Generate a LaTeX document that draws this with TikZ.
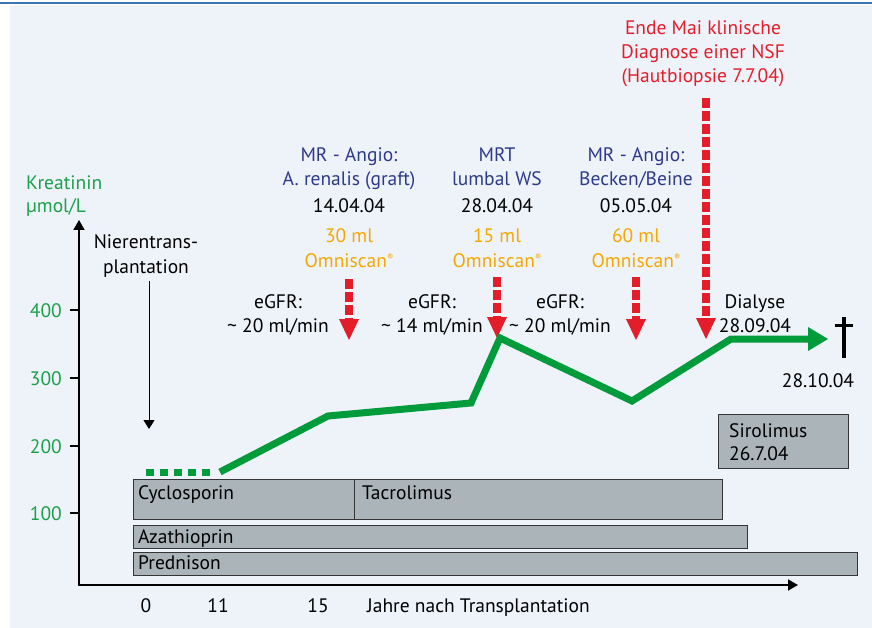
\documentclass[tikz,border=0pt]{standalone}
\usepackage{fontspec}
\setmainfont{PT Sans}
\usetikzlibrary{arrows.meta,positioning}

\definecolor{bgblue}{HTML}{EEF2F9}
\definecolor{rulebl}{HTML}{3A76B6}
\definecolor{kgreen}{HTML}{1BA04B}
\definecolor{curvegreen}{HTML}{009B3A}
\definecolor{examblue}{HTML}{2E3A8C}
\definecolor{doseorange}{HTML}{F4A800}
\definecolor{nsfred}{HTML}{E31E2A}
\definecolor{bargray}{HTML}{AAB4B9}
\definecolor{barline}{HTML}{353535}

\newcommand{\omniscan}{Omniscan\raisebox{6pt}{\fontsize{9}{9}\selectfont ®}}

\begin{document}
\begin{tikzpicture}[x=1pt,y=-1pt,node distance=24pt,on grid,
    every node/.style={inner sep=0pt,text height=14pt,text depth=4pt,font=\fontsize{19.5}{24}\selectfont},
    lbl/.style={anchor=base},
    exam/.style={lbl,text=examblue},
    dose/.style={lbl,text=doseorange},
    nsf/.style={lbl,text=nsfred},
    barlab/.style={anchor=base west},
    ylab/.style={anchor=base east,text=kgreen},
    bar/.style={draw=barline,fill=bargray,line width=1.3pt,anchor=north west,text height=0pt,text depth=0pt},
    axis/.style={line width=1.5pt,{Triangle[length=10pt,width=11pt]}-{Triangle[length=10pt,width=11pt]}},
    thinarrow/.style={line width=1pt,-{Triangle[length=9pt,width=11pt]}},
    cmarrow/.style={draw=nsfred,line width=8pt,dash pattern=on 10pt off 3pt,-{Triangle[length=21pt,width=20pt,line width=0pt]}},
    curve/.style={draw=curvegreen,line width=7pt,-{Triangle[length=20pt,width=24pt,line width=0pt]}},
    curvedot/.style={draw=curvegreen,line width=7pt,dash pattern=on 8pt off 6pt}]
   \useasboundingbox (0,0) rectangle (872,628);
   \fill[bgblue] (10,5) rectangle (872,628);
   \draw[rulebl,line width=2pt] (0,3) -- (872,3);

   \node[lbl,anchor=base west,text=kgreen] (kre) at (26,190) {Kreatinin};
   \node[lbl,anchor=base west,text=kgreen] (kreu) at (26,213) {µmol/L};

   \coordinate (ytip) at (79,220);
   \coordinate (orig) at (79,585);
   \coordinate (xtip) at (798,585);
   \draw[axis] (ytip) -- (orig) -- (xtip);
   \foreach \v/\y in {400/310,300/378,200/446,100/513} {
      \draw[line width=1.5pt] (70,\y) -- (79,\y);
      \node[ylab] (y\v) at (62,\y+7) {\v};
   }
   \node[lbl] (x0) at (146,612) {0};
   \node[lbl] (x11) at (218,612) {11};
   \node[lbl] (x15) at (318,612) {15};
   \node[barlab] (xlab) at (367,612) {Jahre nach Transplantation};

   \node[lbl] (ntx) at (146,249) {Nierentrans-};
   \node[below=of ntx] (ntx2) {plantation};
   \coordinate (nt0) at (149,281);
   \coordinate (nt1) at (149,429);
   \draw[thinarrow] (nt0) -- (nt1);

   \node[exam] (ex1) at (349,162) {MR - Angio:};
   \node[exam,below=of ex1] (ex1b) {A. renalis (graft)};
   \node[lbl,below=27pt of ex1b] (dt1) {14.04.04};
   \node[dose,below=30pt of dt1] (ml1) {30 ml};
   \node[dose,below=of ml1] (om1) {\omniscan};

   \node[exam] (ex2) at (497,162) {MRT};
   \node[exam,below=of ex2] (ex2b) {lumbal WS};
   \node[lbl,below=27pt of ex2b] (dt2) {28.04.04};
   \node[dose,below=30pt of dt2] (ml2) {15 ml};
   \node[dose,below=of ml2] (om2) {\omniscan};

   \node[exam] (ex3) at (636,162) {MR - Angio:};
   \node[exam,below=of ex3] (ex3b) {Becken/Beine};
   \node[lbl,below=27pt of ex3b] (dt3) {05.05.04};
   \node[dose,below=30pt of dt3] (ml3) {60 ml};
   \node[dose,below=of ml3] (om3) {\omniscan};

   \node[nsf] (nsf1) at (703,35) {Ende Mai klinische};
   \node[nsf,below=of nsf1] (nsf2) {Diagnose einer NSF};
   \node[nsf,below=of nsf2] (nsf3) {(Hautbiopsie 7.7.04)};

   \coordinate (a1) at (349,279);
   \coordinate (a1t) at (349,340);
   \coordinate (a2) at (497,277);
   \coordinate (a2t) at (497,338);
   \coordinate (a3) at (636,277);
   \coordinate (a3t) at (636,340);
   \coordinate (a4) at (706,98);
   \coordinate (a4t) at (706,339);
   \draw[cmarrow] (a1) -- (a1t);
   \draw[cmarrow] (a2) -- (a2t);
   \draw[cmarrow] (a3) -- (a3t);
   \draw[cmarrow] (a4) -- (a4t);

   \node[lbl] (gfr1) at (278,308) {eGFR:};
   \node[below=of gfr1] (gfr1b) {\textasciitilde{} 20 ml/min};
   \node[lbl] (gfr2) at (432,308) {eGFR:};
   \node[below=of gfr2] (gfr2b) {\textasciitilde{} 14 ml/min};
   \node[lbl] (gfr3) at (560,308) {eGFR:};
   \node[below=of gfr3] (gfr3b) {\textasciitilde{} 20 ml/min};

   \node[lbl] (dia) at (755,308) {Dialyse};
   \node[below=of dia] (diadt) {28.09.04};
   \node[lbl] (tod) at (818,387) {28.10.04};
   \coordinate (crs) at (844,317);
   \draw[line width=4pt] (crs) -- ++(0,41);
   \draw[line width=3pt] (crs) ++(-9,8) -- ++(18,0);

   \node[bar,minimum width=221pt,minimum height=40pt] (cyc) at (133,479) {};
   \node[bar,minimum width=368pt,minimum height=40pt] (tac) at (354,479) {};
   \node[bar,minimum width=614pt,minimum height=23pt] (aza) at (133,525) {};
   \node[bar,minimum width=724pt,minimum height=23pt] (pred) at (133,552) {};
   \node[bar,minimum width=130pt,minimum height=54pt] (siro) at (718,414) {};
   \node[barlab] (cyctx) at (138,499) {Cyclosporin};
   \node[barlab] (tactx) at (362,499) {Tacrolimus};
   \node[barlab] (azatx) at (138,543) {Azathioprin};
   \node[barlab] (predtx) at (138,569) {Prednison};
   \node[barlab] (sirotx) at (729,437) {Sirolimus};
   \node[barlab] (sirodt) at (729,460) {26.7.04};

   \coordinate (dot0) at (146,472);
   \coordinate (dot1) at (212,472);
   \coordinate (c1) at (220,472);
   \coordinate (c2) at (328,416);
   \coordinate (c3) at (471,403);
   \coordinate (c4) at (500,338);
   \coordinate (c5) at (632,401);
   \coordinate (c6) at (731,339);
   \coordinate (c7) at (828,339);
   \draw[curvedot] (dot0) -- (dot1);
   \draw[curve] (c1) -- (c2) -- (c3) -- (c4) -- (c5) -- (c6) -- (c7);
\end{tikzpicture}
\end{document}
